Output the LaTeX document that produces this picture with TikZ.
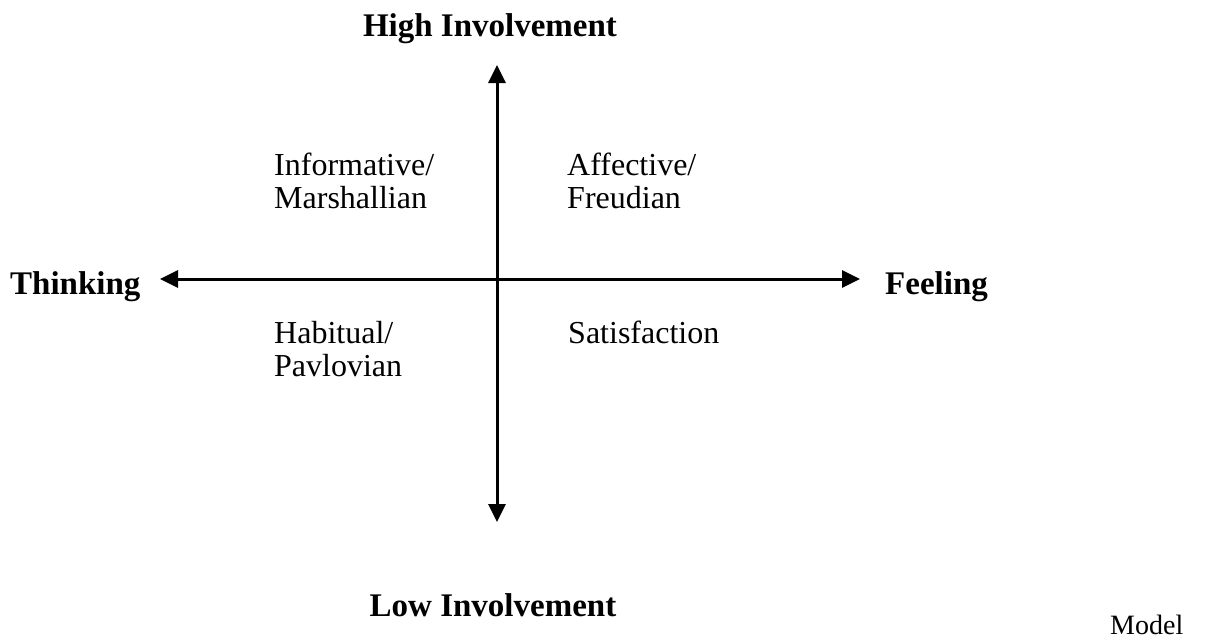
\documentclass[tikz,border=0pt]{standalone}
\usepackage{fontspec}
\setmainfont{Liberation Serif}
\usetikzlibrary{arrows.meta}
\tikzset{
  lbl/.style={inner sep=0pt, font=\fontsize{32}{33}\selectfont, align=left},
  blbl/.style={inner sep=0pt, font=\fontsize{33}{36}\selectfont\bfseries},
  axis/.style={line width=3pt, {Triangle[length=18pt,width=17pt]}-{Triangle[length=18pt,width=17pt]}}
}
\begin{document}
\begin{tikzpicture}[x=1pt,y=-1pt]
\useasboundingbox (0,0) rectangle (1206,641);
\coordinate (top) at (497,65);
\coordinate (bottom) at (497,522);
\coordinate (left) at (160,279);
\coordinate (right) at (860,279);
\draw[axis] (top) -- (bottom);
\draw[axis] (left) -- (right);
\node[blbl, anchor=base] (hi) at (490,36) {High Involvement};
\node[blbl, anchor=base] (lo) at (493,616) {Low Involvement};
\node[blbl, anchor=base west] (th) at (10,294) {Thinking};
\node[blbl, anchor=base west] (fe) at (885,294) {Feeling};
\node[lbl, anchor=base west] (inf) at (274,208) {Informative/\\Marshallian};
\node[lbl, anchor=base west] (aff) at (567,208) {Affective/\\Freudian};
\node[lbl, anchor=base west] (hab) at (274,376) {Habitual/\\Pavlovian};
\node[lbl, anchor=base west] (sat) at (568,343) {Satisfaction};
\node[lbl, font=\fontsize{28}{30}\selectfont, anchor=base west] (mod) at (1110,634) {Model};
\end{tikzpicture}
\end{document}
